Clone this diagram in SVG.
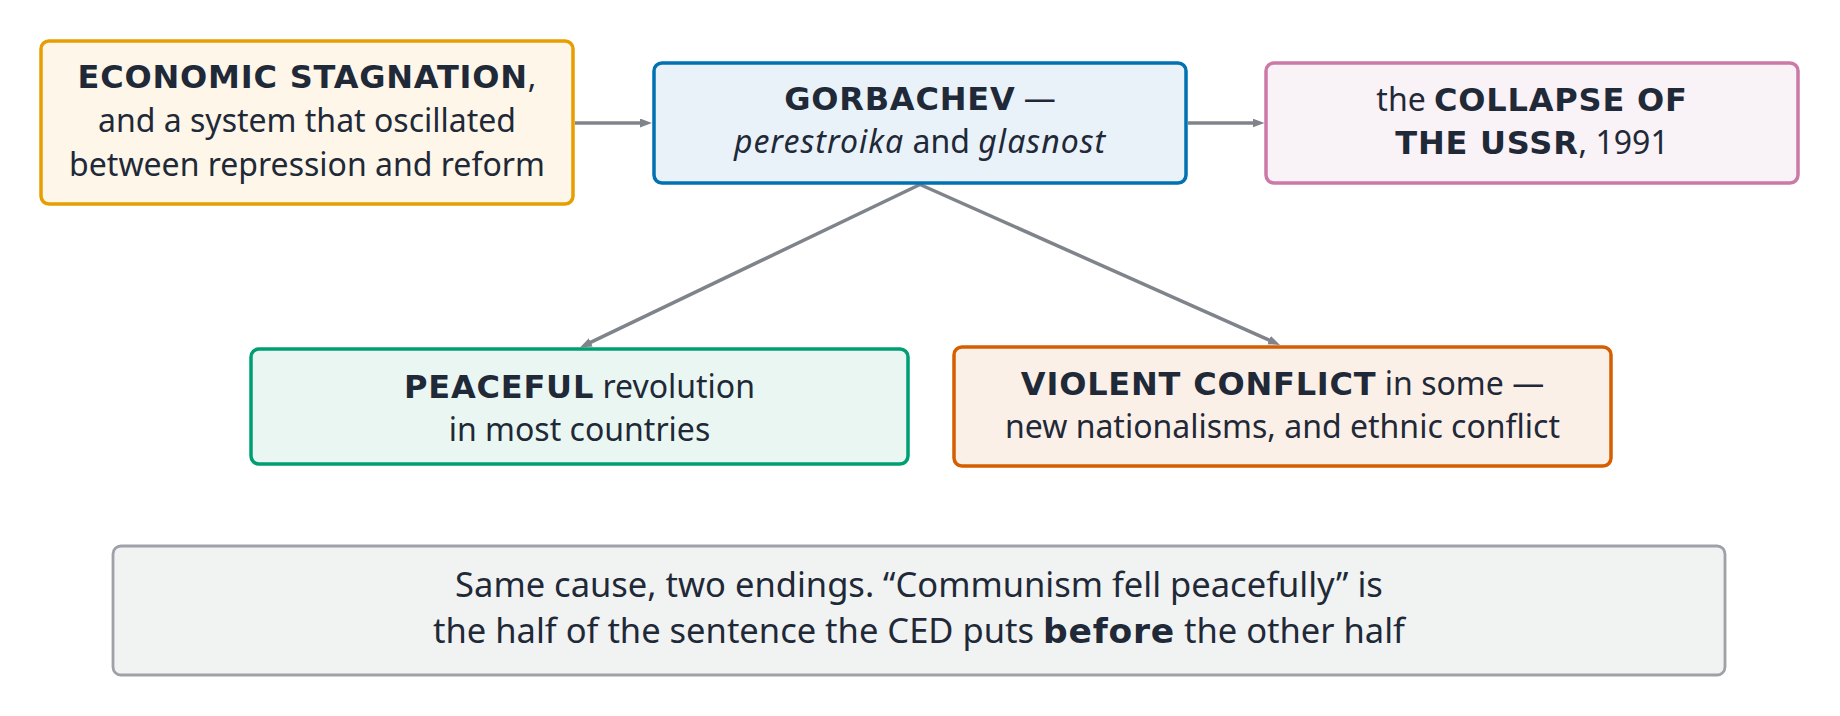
<svg xmlns="http://www.w3.org/2000/svg" width="1840" height="716" viewBox="0 0 1840 716">
<defs>
<style>
text{font-family:"Noto Sans","Open Sans","DejaVu Sans",sans-serif;font-size:32px;fill:#1f2937;text-anchor:middle}
.b{font-family:"DejaVu Sans","Noto Sans",sans-serif;font-weight:bold;letter-spacing:0.8px}
.i{font-style:italic;letter-spacing:1px}
.big{font-size:34.5px}
rect{stroke-width:3.5}
.conn line{stroke:#7f848b;stroke-width:3.5;fill:none}
</style>
<marker id="ah" markerUnits="userSpaceOnUse" markerWidth="14" markerHeight="12" refX="2" refY="4.5" orient="auto">
<path d="M0,0 L12,4.5 L0,9 z" fill="#7f848b"/>
</marker>
</defs>
<rect width="1840" height="716" fill="#ffffff" style="stroke:none"/>
<g class="conn" id="connectors">
<line x1="575" y1="123" x2="642" y2="123" marker-end="url(#ah)"/>
<line x1="1188" y1="123" x2="1254.5" y2="123" marker-end="url(#ah)"/>
<line x1="920" y1="184.5" x2="589" y2="343.2" marker-end="url(#ah)"/>
<line x1="920" y1="184.5" x2="1270.9" y2="340.9" marker-end="url(#ah)"/>
</g>
<g id="n1">
<rect x="41" y="41" width="532" height="163" rx="8" fill="#fdf6e9" stroke="#e69f00"/>
<text x="307" y="88"><tspan class="b">ECONOMIC STAGNATION</tspan>,</text>
<text x="307" y="132">and a system that oscillated</text>
<text x="307" y="176">between repression and reform</text>
</g>
<g id="n2">
<rect x="654" y="63" width="532" height="120" rx="8" fill="#eaf2f9" stroke="#0072b2"/>
<text x="920" y="110"><tspan class="b">GORBACHEV</tspan> —</text>
<text x="920" y="153"><tspan class="i">perestroika</tspan> and <tspan class="i">glasnost</tspan></text>
</g>
<g id="n3">
<rect x="1266" y="63" width="532" height="120" rx="8" fill="#f9f2f6" stroke="#cc79a7"/>
<text x="1532" y="111">the <tspan class="b">COLLAPSE OF</tspan></text>
<text x="1532" y="154"><tspan class="b">THE USSR</tspan>, 1991</text>
</g>
<g id="n4">
<rect x="251" y="349" width="657" height="115" rx="8" fill="#eaf6f2" stroke="#009e73"/>
<text x="579.5" y="398"><tspan class="b">PEACEFUL</tspan> revolution</text>
<text x="579.5" y="441">in most countries</text>
</g>
<g id="n5">
<rect x="954" y="347" width="657" height="119" rx="8" fill="#fbf0e8" stroke="#d55e00"/>
<text x="1282.5" y="395"><tspan class="b">VIOLENT CONFLICT</tspan> in some —</text>
<text x="1282.5" y="438">new nationalisms, and ethnic conflict</text>
</g>
<g id="n6">
<rect x="113" y="546" width="1612" height="129" rx="8" fill="#f1f2f2" stroke="#9ea1a8" style="stroke-width:2.8"/>
<text class="big" x="919" y="597">Same cause, two endings. “Communism fell peacefully” is</text>
<text class="big" x="919" y="643">the half of the sentence the CED puts <tspan class="b">before</tspan> the other half</text>
</g>
</svg>
